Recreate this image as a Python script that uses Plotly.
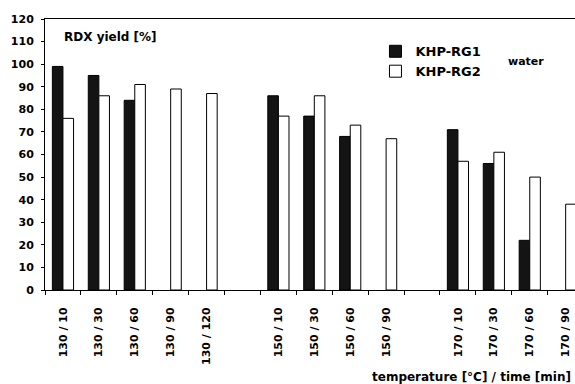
import plotly.graph_objects as go

categories = ["130 / 10", "130 / 30", "130 / 60", "130 / 90", "130 / 120", None,
              "150 / 10", "150 / 30", "150 / 60", "150 / 90", None,
              "170 / 10", "170 / 30", "170 / 60", "170 / 90"]
khp_rg1 = [99, 95, 84, None, None, None, 86, 77, 68, None, None, 71, 56, 22, None]
khp_rg2 = [76, 86, 91, 89, 87, None, 77, 86, 73, 67, None, 57, 61, 50, 38]
y_ticks = list(range(0, 121, 10))

pos = list(range(len(categories)))
label_pos = [p for p, c in zip(pos, categories) if c is not None]
label_txt = [c for c in categories if c is not None]

FONT = "DejaVu Sans"

fig = go.Figure()
fig.add_trace(go.Bar(x=pos, y=khp_rg1, name="KHP-RG1",
                     marker=dict(color="#141414", line=dict(color="black", width=1))))
fig.add_trace(go.Bar(x=pos, y=khp_rg2, name="KHP-RG2",
                     marker=dict(color="white", line=dict(color="black", width=1))))

fig.update_layout(
    width=575, height=384,
    margin=dict(l=45, r=0, t=19, b=94),
    paper_bgcolor="white", plot_bgcolor="white",
    font=dict(family=FONT, color="black", size=11, weight="bold"),
    barmode="group", bargap=0.41, bargroupgap=0,
    legend=dict(x=0.6235, y=0.936, xanchor="left", yanchor="top",
                font=dict(family=FONT, size=13, weight="bold", color="black"),
                bgcolor="rgba(0,0,0,0)", itemwidth=30, tracegroupgap=0,
                traceorder="normal"),
    showlegend=True,
)
fig.update_xaxes(
    range=[-0.5, 14.26],
    tickmode="array", tickvals=label_pos, ticktext=label_txt,
    tickangle=-90, ticks="", ticklen=0, ticklabelstandoff=12,
    tickfont=dict(family=FONT, size=11, weight="bold", color="black"),
    showline=True, linecolor="black", linewidth=1, mirror=True,
    showgrid=False, zeroline=False,
    minor=dict(tickmode="linear", tick0=-0.5, dtick=1, ticks="outside",
               ticklen=4, tickcolor="black", showgrid=False),
)
fig.update_yaxes(
    range=[0, 120], tickmode="array", tickvals=y_ticks,
    ticks="outside", ticklen=3, tickcolor="black", ticklabelstandoff=5,
    tickfont=dict(family=FONT, size=11, weight="bold", color="black"),
    showline=True, linecolor="black", linewidth=1,
    showgrid=False, zeroline=False,
)

fig.add_annotation(text="RDX yield [%]", xref="paper", yref="paper",
                   x=0.032, y=(290 - 37) / 271, xanchor="left", yanchor="middle",
                   showarrow=False, font=dict(family=FONT, size=12, weight="bold"))
fig.add_annotation(text="water", xref="paper", yref="paper",
                   x=(526 - 45) / 530, y=(290 - 62) / 271, xanchor="center", yanchor="middle",
                   showarrow=False, font=dict(family=FONT, size=11, weight="bold"))
fig.add_annotation(text="temperature [°C] / time [min]", xref="paper", yref="paper",
                   x=(573 - 45) / 530, y=(290 - 377) / 271, xanchor="right", yanchor="middle",
                   showarrow=False, font=dict(family=FONT, size=12, weight="bold"))

fig.write_html("out.html")
